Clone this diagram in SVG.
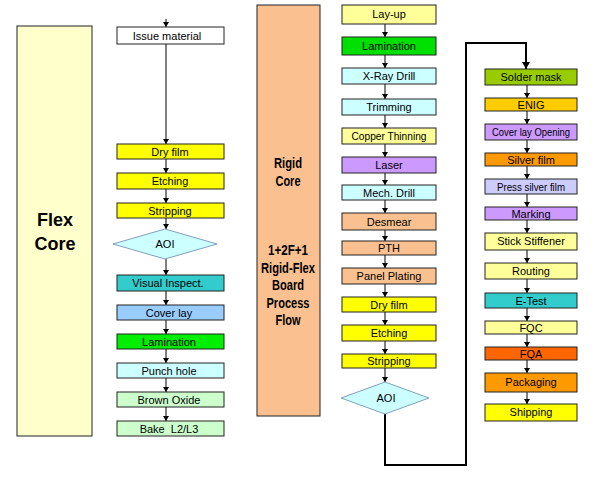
<svg xmlns="http://www.w3.org/2000/svg" width="600" height="480" viewBox="0 0 600 480">
<defs>
<style>
.n{stroke:#222;stroke-width:1}
.t{font-family:"Liberation Sans",Arial,sans-serif;font-size:11px;fill:#000;text-anchor:middle}
.b{font-family:"Liberation Sans",Arial,sans-serif;font-weight:bold;fill:#000;text-anchor:middle}
.c{stroke:#000;stroke-width:1;fill:none;marker-end:url(#ah)}
.d{stroke:#7f9fbf;stroke-width:1;fill:#ccffff}
</style>
<marker id="ah" markerWidth="6" markerHeight="6" refX="5" refY="3" orient="auto" markerUnits="userSpaceOnUse">
<path d="M0,0 L5,3 L0,6 Z" fill="#000"/>
</marker>
<marker id="ah2" markerWidth="8" markerHeight="8" refX="7" refY="4" orient="auto" markerUnits="userSpaceOnUse">
<path d="M0,0 L7,4 L0,8 Z" fill="#000"/>
</marker>
</defs>
<rect width="600" height="480" fill="#fff"/>

<g id="flex-core">
<rect x="17" y="26" width="75" height="410" fill="#ffffcc" stroke="#222"/>
<text class="b" x="55" y="226" font-size="18">Flex</text>
<text class="b" x="55" y="250" font-size="18">Core</text>
</g>

<g id="rigid-core">
<rect x="257" y="5" width="63" height="411" fill="#fac090" stroke="#222"/>
<g class="b" font-size="14">
<text x="288" y="168" textLength="28" lengthAdjust="spacingAndGlyphs">Rigid</text>
<text x="288" y="186" textLength="25" lengthAdjust="spacingAndGlyphs">Core</text>
<text x="288" y="255" textLength="40" lengthAdjust="spacingAndGlyphs">1+2F+1</text>
<text x="288" y="273" textLength="54" lengthAdjust="spacingAndGlyphs">Rigid-Flex</text>
<text x="288" y="290" textLength="32" lengthAdjust="spacingAndGlyphs">Board</text>
<text x="288" y="308" textLength="43" lengthAdjust="spacingAndGlyphs">Process</text>
<text x="288" y="325" textLength="25" lengthAdjust="spacingAndGlyphs">Flow</text>
</g>
</g>

<g id="connectors">
<line class="c" x1="166" y1="19" x2="166" y2="27"/>
<line class="c" x1="166" y1="44" x2="166" y2="144"/>
<line class="c" x1="166" y1="159" x2="166" y2="173"/>
<line class="c" x1="166" y1="189" x2="166" y2="203"/>
<line class="c" x1="166" y1="218" x2="166" y2="229"/>
<line class="c" x1="166" y1="259" x2="166" y2="275"/>
<line class="c" x1="166" y1="291" x2="166" y2="305"/>
<line class="c" x1="166" y1="320" x2="166" y2="334"/>
<line class="c" x1="166" y1="349" x2="166" y2="363"/>
<line class="c" x1="166" y1="378" x2="166" y2="392"/>
<line class="c" x1="166" y1="407" x2="166" y2="421"/>

<line class="c" x1="385" y1="24" x2="385" y2="37"/>
<line class="c" x1="385" y1="55" x2="385" y2="68"/>
<line class="c" x1="385" y1="84" x2="385" y2="99"/>
<line class="c" x1="385" y1="115" x2="385" y2="128"/>
<line class="c" x1="385" y1="144" x2="385" y2="157"/>
<line class="c" x1="385" y1="173" x2="385" y2="185"/>
<line class="c" x1="385" y1="200" x2="385" y2="213"/>
<line class="c" x1="385" y1="230" x2="385" y2="241"/>
<line class="c" x1="385" y1="255" x2="385" y2="268"/>
<line class="c" x1="385" y1="284" x2="385" y2="297"/>
<line class="c" x1="385" y1="312" x2="385" y2="325"/>
<line class="c" x1="385" y1="341" x2="385" y2="354"/>
<line class="c" x1="385" y1="368" x2="385" y2="382"/>
<polyline points="385,414 385,465 466,465 466,43 526,43 526,69" fill="none" stroke="#000" stroke-width="2" marker-end="url(#ah2)"/>

<line class="c" x1="527" y1="85" x2="527" y2="98"/>
<line class="c" x1="527" y1="111" x2="527" y2="124"/>
<line class="c" x1="527" y1="140" x2="527" y2="153"/>
<line class="c" x1="527" y1="166" x2="527" y2="179"/>
<line class="c" x1="527" y1="194" x2="527" y2="207"/>
<line class="c" x1="527" y1="220" x2="527" y2="233"/>
<line class="c" x1="527" y1="250" x2="527" y2="263"/>
<line class="c" x1="527" y1="279" x2="527" y2="293"/>
<line class="c" x1="527" y1="308" x2="527" y2="321"/>
<line class="c" x1="527" y1="334" x2="527" y2="347"/>
<line class="c" x1="527" y1="360" x2="527" y2="373"/>
<line class="c" x1="527" y1="392" x2="527" y2="404"/>
</g>

<!-- left column -->
<g id="issue-material"><rect class="n" x="117" y="27" width="107" height="17" fill="#ffffff"/><text class="t" x="167" y="40">Issue material</text></g>
<g id="dry-film-1"><rect class="n" x="117" y="144" width="107" height="15" fill="#ffff00"/><text class="t" x="170" y="156">Dry film</text></g>
<g id="etching-1"><rect class="n" x="117" y="173" width="107" height="16" fill="#ffff00"/><text class="t" x="170" y="185">Etching</text></g>
<g id="stripping-1"><rect class="n" x="117" y="203" width="107" height="15" fill="#ffff00"/><text class="t" x="170" y="215">Stripping</text></g>
<g id="aoi-1"><polygon class="d" points="113,244 165,229 217,244 165,259"/><text class="t" x="165" y="248">AOI</text></g>
<g id="visual-inspect"><rect class="n" x="117" y="275" width="107" height="16" fill="#33cccc"/><text class="t" x="168" y="287">Visual Inspect.</text></g>
<g id="cover-lay"><rect class="n" x="117" y="305" width="107" height="15" fill="#99ccff"/><text class="t" x="169" y="317">Cover lay</text></g>
<g id="lamination-1"><rect class="n" x="117" y="334" width="107" height="15" fill="#00ee00"/><text class="t" x="169" y="346">Lamination</text></g>
<g id="punch-hole"><rect class="n" x="117" y="363" width="107" height="15" fill="#ccffff"/><text class="t" x="169" y="375">Punch hole</text></g>
<g id="brown-oxide"><rect class="n" x="117" y="392" width="107" height="15" fill="#ccffcc"/><text class="t" x="169" y="404">Brown Oxide</text></g>
<g id="bake"><rect class="n" x="117" y="421" width="107" height="15" fill="#ccffcc"/><text class="t" x="169" y="433" xml:space="preserve">Bake  L2/L3</text></g>

<!-- middle column -->
<g id="lay-up"><rect class="n" x="342" y="5" width="94" height="19" fill="#ffff99"/><text class="t" x="389" y="18">Lay-up</text></g>
<g id="lamination-2"><rect class="n" x="342" y="37" width="94" height="18" fill="#00e000"/><text class="t" x="389" y="50">Lamination</text></g>
<g id="x-ray-drill"><rect class="n" x="342" y="68" width="94" height="16" fill="#ccffff"/><text class="t" x="389" y="80">X-Ray Drill</text></g>
<g id="trimming"><rect class="n" x="342" y="99" width="94" height="16" fill="#ccffff"/><text class="t" x="389" y="111">Trimming</text></g>
<g id="copper-thinning"><rect class="n" x="342" y="128" width="94" height="16" fill="#ffff99"/><text class="t" x="389" y="140" textLength="75" lengthAdjust="spacingAndGlyphs">Copper Thinning</text></g>
<g id="laser"><rect class="n" x="342" y="157" width="94" height="16" fill="#cc99ff"/><text class="t" x="389" y="169">Laser</text></g>
<g id="mech-drill"><rect class="n" x="342" y="185" width="94" height="15" fill="#ccffff"/><text class="t" x="389" y="197">Mech. Drill</text></g>
<g id="desmear"><rect class="n" x="342" y="213" width="94" height="17" fill="#fac090"/><text class="t" x="389" y="226">Desmear</text></g>
<g id="pth"><rect class="n" x="342" y="241" width="94" height="14" fill="#fac090"/><text class="t" x="389" y="252">PTH</text></g>
<g id="panel-plating"><rect class="n" x="342" y="268" width="94" height="16" fill="#fac090"/><text class="t" x="389" y="280">Panel Plating</text></g>
<g id="dry-film-2"><rect class="n" x="342" y="297" width="94" height="15" fill="#ffff00"/><text class="t" x="389" y="309">Dry film</text></g>
<g id="etching-2"><rect class="n" x="342" y="325" width="94" height="16" fill="#ffff00"/><text class="t" x="389" y="337">Etching</text></g>
<g id="stripping-2"><rect class="n" x="342" y="354" width="94" height="14" fill="#ffff00"/><text class="t" x="389" y="365">Stripping</text></g>
<g id="aoi-2"><polygon class="d" points="341,398 385,382 429,398 385,414"/><text class="t" x="386" y="402">AOI</text></g>

<!-- right column -->
<g id="solder-mask"><rect class="n" x="485" y="69" width="92" height="16" fill="#99cc00"/><text class="t" x="531" y="81">Solder mask</text></g>
<g id="enig"><rect class="n" x="485" y="98" width="92" height="13" fill="#ffcc00"/><text class="t" x="531" y="109">ENIG</text></g>
<g id="cover-lay-opening"><rect class="n" x="485" y="124" width="92" height="16" fill="#cc99ff"/><text class="t" x="531" y="136" textLength="78" lengthAdjust="spacingAndGlyphs">Cover lay Opening</text></g>
<g id="silver-film"><rect class="n" x="485" y="153" width="92" height="13" fill="#ff9900"/><text class="t" x="531" y="164">Silver film</text></g>
<g id="press-silver-film"><rect class="n" x="485" y="179" width="92" height="15" fill="#ccccff"/><text class="t" x="531" y="191" textLength="68" lengthAdjust="spacingAndGlyphs">Press silver film</text></g>
<g id="marking"><rect class="n" x="485" y="207" width="92" height="13" fill="#cc99ff"/><text class="t" x="531" y="218">Marking</text></g>
<g id="stick-stiffener"><rect class="n" x="485" y="233" width="92" height="17" fill="#ffff99"/><text class="t" x="531" y="245">Stick Stiffener</text></g>
<g id="routing"><rect class="n" x="485" y="263" width="92" height="16" fill="#ffff99"/><text class="t" x="531" y="275">Routing</text></g>
<g id="e-test"><rect class="n" x="485" y="293" width="92" height="15" fill="#33cccc"/><text class="t" x="531" y="305">E-Test</text></g>
<g id="fqc"><rect class="n" x="485" y="321" width="92" height="13" fill="#ffff99"/><text class="t" x="531" y="332">FQC</text></g>
<g id="fqa"><rect class="n" x="485" y="347" width="92" height="13" fill="#ff6600"/><text class="t" x="531" y="358">FQA</text></g>
<g id="packaging"><rect class="n" x="485" y="373" width="92" height="19" fill="#ff9900"/><text class="t" x="531" y="386">Packaging</text></g>
<g id="shipping"><rect class="n" x="485" y="404" width="92" height="17" fill="#ffff00"/><text class="t" x="531" y="416">Shipping</text></g>
</svg>
